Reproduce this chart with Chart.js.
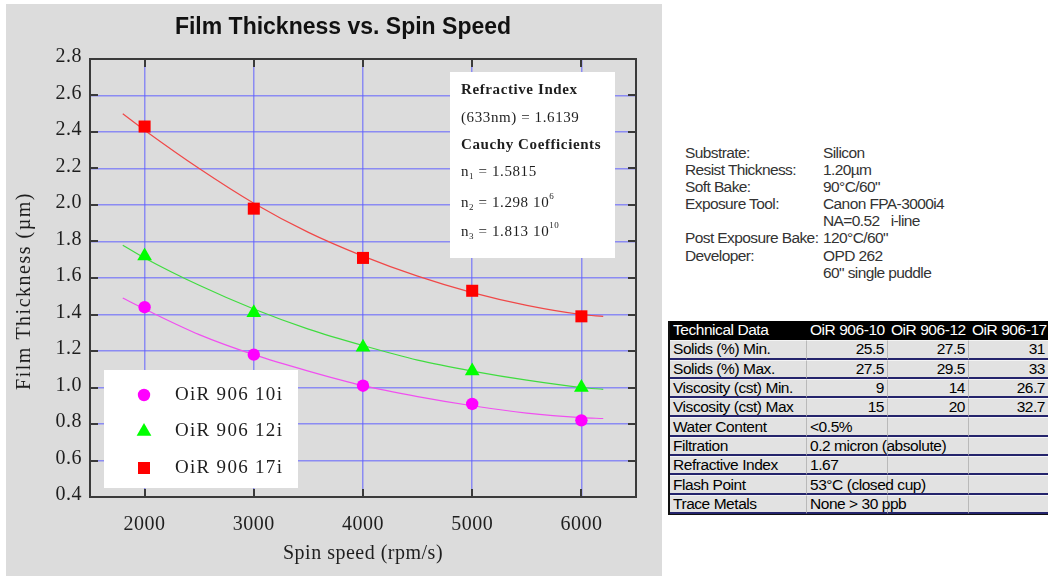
<!DOCTYPE html>
<html lang="en">
<head>
<meta charset="utf-8">
<title>Film Thickness vs. Spin Speed</title>
<script src="https://cdn.jsdelivr.net/npm/chart.js@4.4.1/dist/chart.umd.min.js"></script>
<style>
  html, body { margin: 0; padding: 0; background: #fff; }
  body {
    position: relative; width: 1049px; height: 576px; overflow: hidden;
    font-family: "Liberation Sans", Arial, sans-serif; color: #2a2a2a;
  }
  #panel { position: absolute; left: 6px; top: 4px; width: 656px; height: 572px; background: #dcdcdc; }
  #panel canvas { display: block; }
  #chart-title {
    position: absolute; left: 0; top: 12px; width: 686px; text-align: center;
    font: bold 23px/28px "Liberation Sans", Arial, sans-serif; color: #111;
  }
  #process {
    position: absolute; left: 685px; top: 144px;
    display: grid; grid-template-columns: 138px auto;
    font-size: 15.5px; line-height: 17.1px; letter-spacing: -0.6px; color: #333;
    white-space: pre;
  }
  #tech {
    position: absolute; left: 668px; top: 321px; width: 380px;
    border-collapse: separate; border-spacing: 0; table-layout: fixed;
    font-size: 15.5px; letter-spacing: -0.45px; color: #000;
    border-left: 2px solid #111; border-bottom: 1px solid #111;
  }
  #tech td {
    height: 19.3px; box-sizing: border-box; padding: 0 3px; line-height: 16px;
    white-space: nowrap; overflow: visible; background: #e2e2e2;
    border-top: 1px solid #f4f4f4; border-bottom: 2px solid #24246c;
  }
  #tech td + td { border-left: 1px solid #b9b9b9; }
  #tech td.num { text-align: right; }
  #tech tr.head td { background: #000; color: #fff; border-top: 0; border-bottom: 2px solid #000; border-left-color: #000; }
</style>
</head>
<body>
<div id="panel"><canvas id="thickness-chart" width="656" height="572"></canvas></div>
<div id="chart-title">Film Thickness vs. Spin Speed</div>

<div id="process"><div>Substrate:</div><div>Silicon</div><div>Resist Thickness:</div><div>1.20µm</div><div>Soft Bake:</div><div>90°C/60"</div><div>Exposure Tool:</div><div>Canon FPA-3000i4</div><div></div><div>NA=0.52   i-line</div><div>Post Exposure Bake:</div><div>120°C/60"</div><div>Developer:</div><div>OPD 262</div><div></div><div>60" single puddle</div></div>

<table id="tech">
  <colgroup><col style="width:136px"><col style="width:81px"><col style="width:81px"><col style="width:80px"></colgroup>
  <tr class="head"><td>Technical Data</td><td>OiR 906-10</td><td>OiR 906-12</td><td>OiR 906-17</td></tr>
  <tr><td>Solids (%) Min.</td><td class="num">25.5</td><td class="num">27.5</td><td class="num">31</td></tr>
  <tr><td>Solids (%) Max.</td><td class="num">27.5</td><td class="num">29.5</td><td class="num">33</td></tr>
  <tr><td>Viscosity (cst) Min.</td><td class="num">9</td><td class="num">14</td><td class="num">26.7</td></tr>
  <tr><td>Viscosity (cst) Max</td><td class="num">15</td><td class="num">20</td><td class="num">32.7</td></tr>
  <tr><td>Water Content</td><td>&lt;0.5%</td><td></td><td></td></tr>
  <tr><td>Filtration</td><td>0.2 micron (absolute)</td><td></td><td></td></tr>
  <tr><td>Refractive Index</td><td>1.67</td><td></td><td></td></tr>
  <tr><td>Flash Point</td><td>53°C (closed cup)</td><td></td><td></td></tr>
  <tr><td>Trace Metals</td><td>None &gt; 30 ppb</td><td></td><td></td></tr>
</table>

<script>
// Measured points (rpm vs. µm).
const spinSpeeds = [2000, 3000, 4000, 5000, 6000];
const thick10i = [1.44, 1.18, 1.01, 0.91, 0.82];
const thick12i = [1.72, 1.41, 1.22, 1.09, 1.00];
const thick17i = [2.43, 1.98, 1.71, 1.53, 1.39];

// Fitted curves.
const fitSpeeds = [1800, 2000, 2500, 3000, 3500, 4000, 4500, 5000, 5500, 6000, 6200];
const fit10i = [1.49, 1.43, 1.29, 1.18, 1.09, 1.01, 0.95, 0.90, 0.86, 0.835, 0.83];
const fit12i = [1.78, 1.71, 1.56, 1.43, 1.32, 1.23, 1.15, 1.09, 1.04, 1.00, 0.99];
const fit17i = [2.50, 2.41, 2.20, 2.01, 1.85, 1.72, 1.61, 1.52, 1.45, 1.40, 1.39];

const seriesNames = ['OiR 906 10i', 'OiR 906 12i', 'OiR 906 17i'];
const xTicks = [2000, 3000, 4000, 5000, 6000];
const yTicks = [0.4, 0.6, 0.8, 1.0, 1.2, 1.4, 1.6, 1.8, 2.0, 2.2, 2.4, 2.6, 2.8];

const xTitle = 'Spin speed (rpm/s)';
const yTitle = 'Film Thickness (µm)';

// Optical constants box, as runs of text.
const noteLines = [
  [{ text: 'Refractive Index', bold: true }],
  [{ text: '(633nm) = 1.6139' }],
  [{ text: 'Cauchy Coefficients', bold: true }],
  [{ text: 'n' }, { text: '1', sub: true }, { text: ' = 1.5815' }],
  [{ text: 'n' }, { text: '2', sub: true }, { text: ' = 1.298 10' }, { text: '6', sup: true }],
  [{ text: 'n' }, { text: '3', sub: true }, { text: ' = 1.813 10' }, { text: '10', sup: true }]
];

(function () {
  'use strict';

  const serif = '"Liberation Serif", "Times New Roman", serif';
  const colors = {
    grid: 'rgba(96, 96, 255, 0.65)',
    frame: '#3a3a3a',
    text: '#1e1e1e',
    magenta: '#ff00ff',
    green: '#00ff00',
    red: '#ff0000',
    magentaLine: '#f050f0',
    greenLine: '#40dc40',
    redLine: '#f04848'
  };

  const pairs = (xs, ys) => xs.map((x, i) => ({ x: x, y: ys[i] }));

  function markerSet(label, values, style, radius, color) {
    return {
      label: label,
      data: pairs(spinSpeeds, values),
      showLine: false,
      pointStyle: style,
      pointRadius: radius,
      pointBorderWidth: 0,
      backgroundColor: color,
      borderColor: color,
      order: 0
    };
  }

  function fitLine(values, color) {
    return {
      data: pairs(fitSpeeds, values),
      showLine: true,
      pointRadius: 0,
      borderWidth: 1.2,
      borderColor: color,
      cubicInterpolationMode: 'monotone',
      fill: false,
      order: 1
    };
  }

  // Note box, legend box, y title, frame and inward ticks.
  const plotDecor = {
    id: 'plotDecor',
    beforeDraw(chart) {
      chart.ctx.letterSpacing = '0.5px';
    },
    beforeDatasetsDraw(chart) {
      const ctx = chart.ctx;
      const area = chart.chartArea;
      ctx.save();

      ctx.fillStyle = '#ffffff';
      ctx.fillRect(area.left + 360, area.top + 13, 165, 186);
      ctx.fillRect(area.left + 14, area.top + 311, 194, 118);

      // Optical constants.
      const noteRows = [31, 59, 86, 113, 144, 173];
      ctx.fillStyle = colors.text;
      ctx.textAlign = 'left';
      ctx.textBaseline = 'middle';
      ctx.letterSpacing = '0.6px';
      noteLines.forEach((runs, i) => {
        let x = area.left + 371;
        const y = area.top + noteRows[i];
        runs.forEach((run) => {
          const small = run.sub || run.sup;
          ctx.font = (run.bold ? 'bold ' : '') + (small ? 9 : 15) + 'px ' + serif;
          const dy = run.sub ? 5 : (run.sup ? -6 : 0);
          ctx.fillText(run.text, x, y + dy);
          x += ctx.measureText(run.text).width;
        });
      });

      // Legend.
      ctx.font = '19px ' + serif;
      ctx.letterSpacing = '1.3px';
      chart.data.datasets.filter((ds) => ds.label).forEach((ds, i) => {
        const y = area.top + 336 + i * 36.5;
        ctx.fillStyle = ds.backgroundColor;
        Chart.helpers.drawPoint(ctx, {
          pointStyle: ds.pointStyle,
          radius: ds.pointRadius,
          rotation: 0,
          borderWidth: 0
        }, area.left + 54, y);
        ctx.fillStyle = colors.text;
        ctx.fillText(ds.label, area.left + 85, y);
      });

      // Y axis title, sits a little below the plot centre.
      ctx.translate(area.left - 60.5, area.top + 232);
      ctx.rotate(-Math.PI / 2);
      ctx.textAlign = 'center';
      ctx.textBaseline = 'alphabetic';
      ctx.font = '20px ' + serif;
      ctx.letterSpacing = '1.5px';
      ctx.fillText(yTitle, 0, 0);

      ctx.restore();
    },
    afterDatasetsDraw(chart) {
      const ctx = chart.ctx;
      const { left, right, top, bottom } = chart.chartArea;
      const xs = chart.scales.x;
      const ys = chart.scales.y;
      ctx.save();
      ctx.strokeStyle = colors.frame;
      ctx.lineWidth = 2;
      ctx.beginPath();
      xs.ticks.forEach((t) => {
        const px = Math.round(xs.getPixelForValue(t.value));
        ctx.moveTo(px, bottom);
        ctx.lineTo(px, bottom - 8);
        ctx.moveTo(px, top);
        ctx.lineTo(px, top + 8);
      });
      ys.ticks.forEach((t) => {
        if (t.value <= ys.min || t.value >= ys.max) {
          return;
        }
        const py = Math.round(ys.getPixelForValue(t.value));
        ctx.moveTo(left, py);
        ctx.lineTo(left + 8, py);
        ctx.moveTo(right, py);
        ctx.lineTo(right - 8, py);
      });
      ctx.stroke();
      ctx.strokeRect(left, top, right - left, bottom - top);
      ctx.restore();
    }
  };

  Chart.defaults.font.family = serif;
  Chart.defaults.color = colors.text;

  new Chart(document.getElementById('thickness-chart'), {
    type: 'scatter',
    data: {
      datasets: [
        markerSet(seriesNames[0], thick10i, 'circle', 6.2, colors.magenta),
        markerSet(seriesNames[1], thick12i, 'triangle', 8.5, colors.green),
        markerSet(seriesNames[2], thick17i, 'rect', 8.5, colors.red),
        fitLine(fit10i, colors.magentaLine),
        fitLine(fit12i, colors.greenLine),
        fitLine(fit17i, colors.redLine)
      ]
    },
    options: {
      responsive: false,
      animation: false,
      layout: {
        padding: { left: 0, right: 26, top: 55, bottom: 0 }
      },
      plugins: {
        legend: { display: false },
        title: { display: false },
        tooltip: { enabled: false }
      },
      scales: {
        x: {
          type: 'linear',
          min: 1500,
          max: 6500,
          afterBuildTicks: (axis) => {
            axis.ticks = xTicks.map((v) => ({ value: v }));
          },
          afterFit: (axis) => {
            axis.height = 79;
          },
          border: { display: false },
          grid: { color: colors.grid, lineWidth: 1.5, drawTicks: false },
          ticks: {
            padding: 16,
            autoSkip: false,
            maxRotation: 0,
            font: { size: 20 },
            callback: (value) => String(value)
          },
          title: {
            display: true,
            text: xTitle,
            font: { size: 20 },
            padding: { top: 0, bottom: 10 }
          }
        },
        y: {
          type: 'linear',
          min: 0.4,
          max: 2.8,
          afterBuildTicks: (axis) => {
            axis.ticks = yTicks.map((v) => ({ value: v }));
          },
          afterFit: (axis) => {
            axis.width = 84;
          },
          border: { display: false },
          grid: { color: colors.grid, lineWidth: 1.5, drawTicks: false },
          ticks: {
            padding: 8,
            labelOffset: -2,
            autoSkip: false,
            font: { size: 20 },
            callback: (value) => value.toFixed(1)
          }
        }
      }
    },
    plugins: [plotDecor]
  });
})();
</script>
</body>
</html>
